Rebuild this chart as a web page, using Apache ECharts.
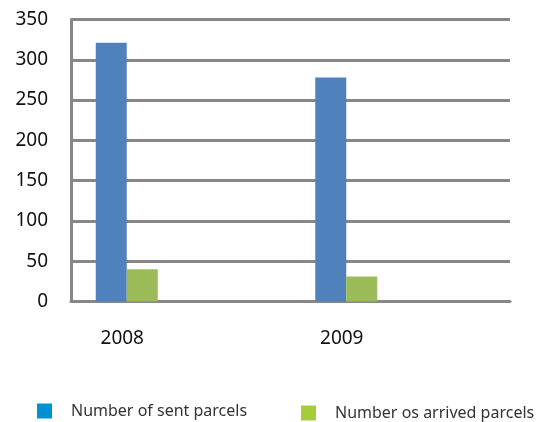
<!DOCTYPE html>
<html>
<head>
<meta charset="utf-8">
<script src="https://cdn.jsdelivr.net/npm/echarts@6/dist/echarts.min.js"></script>
<style>
html,body{margin:0;padding:0;background:#fff;}
#chart{width:538px;height:422px;}
</style>
</head>
<body>
<div id="chart"></div>
<script>
var categories = ['2008', '2009'];
var sentParcels = [321, 278];
var arrivedParcels = [40, 31];
var yTicks = [0, 50, 100, 150, 200, 250, 300, 350];
var seriesNames = ['Number of sent parcels', 'Number os arrived parcels'];

var chart = echarts.init(document.getElementById('chart'), null, {renderer: 'canvas'});
var gridColor = '#878787';
var option = {
  animation: false,
  backgroundColor: '#ffffff',
  grid: {left: 71, right: 28, top: 19.5, bottom: 120.5, containLabel: false},
  legend: [
    {
      left: 32, top: 398, itemWidth: 15, itemHeight: 15, icon: 'rect',
      selectedMode: false,
      data: [{name: seriesNames[0], itemStyle: {color: '#0091D3'}}],
      textStyle: {fontFamily: 'Noto Sans', fontSize: 16, color: '#333', padding: [5, 0, 0, 14]}
    },
    {
      left: 296, top: 400, itemWidth: 15, itemHeight: 15, icon: 'rect',
      selectedMode: false,
      data: [{name: seriesNames[1], itemStyle: {color: '#A5CD39'}}],
      textStyle: {fontFamily: 'Noto Sans', fontSize: 16, color: '#333', padding: [3, 0, 0, 14]}
    }
  ],
  xAxis: {
    type: 'category',
    data: categories,
    axisLine: {show: true, lineStyle: {color: gridColor, width: 3}},
    axisTick: {show: false},
    axisLabel: {
      margin: 28,
      fontFamily: 'Noto Sans', fontSize: 19, color: '#111',
      padding: [0, 117, 0, 0]
    },
    splitLine: {show: false}
  },
  yAxis: {
    type: 'value',
    min: yTicks[0],
    max: yTicks[yTicks.length - 1],
    interval: yTicks[1] - yTicks[0],
    axisLine: {show: true, lineStyle: {color: gridColor, width: 3}},
    axisTick: {show: false},
    axisLabel: {margin: 23, fontFamily: 'Noto Sans', fontSize: 19, color: '#111'},
    splitLine: {show: true, lineStyle: {color: gridColor, width: 3}}
  },
  series: [
    {
      name: seriesNames[0], type: 'bar', data: sentParcels,
      barWidth: 31, barGap: 0,
      itemStyle: {color: '#4F81BD'}
    },
    {
      name: seriesNames[1], type: 'bar', data: arrivedParcels,
      barWidth: 31, barGap: 0,
      itemStyle: {color: '#9BBB59'}
    },
    {
      name: 'spacer', type: 'bar', data: categories.map(function(){ return '-'; }),
      barWidth: 108, barGap: 0,
      itemStyle: {color: 'transparent'}
    }
  ]
};
chart.setOption(option);
</script>
</body>
</html>
